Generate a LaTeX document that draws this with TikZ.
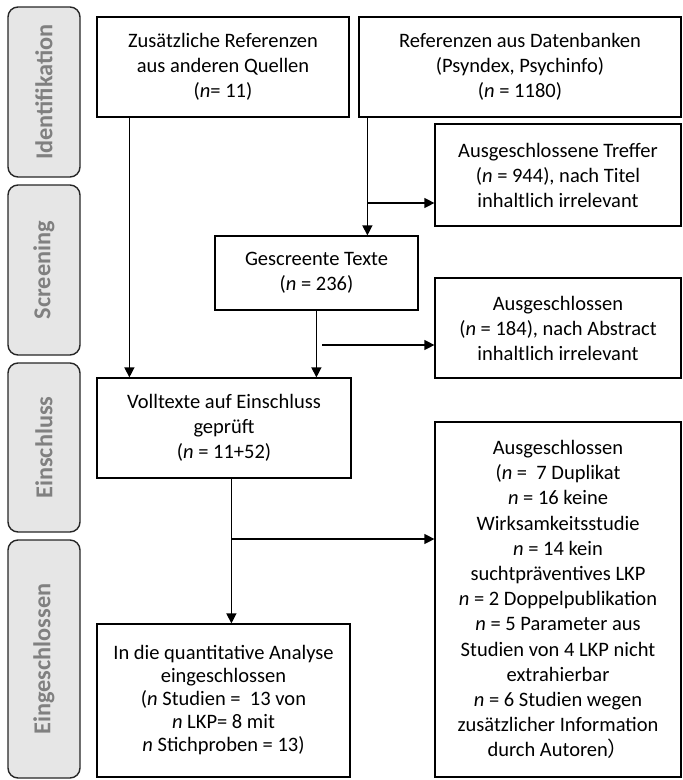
\documentclass[tikz,border=0pt]{standalone}
\usepackage{fontspec}
\setmainfont{Carlito}
\newfontfamily\cjkfont{Noto Sans CJK SC}
\usetikzlibrary{arrows.meta}
\definecolor{sidefill}{RGB}{230,230,230}
\definecolor{sidetext}{RGB}{128,128,128}
\begin{document}
\begin{tikzpicture}[x=1pt,y=-1pt,
  box/.style={draw, line width=1.2pt, inner sep=0pt, align=center, font=\fontsize{20.5}{25}\selectfont},
  side/.style={draw=black!85, line width=1.4pt, fill=sidefill, rounded corners=10pt, rotate=90, inner sep=0pt, text=sidetext, font=\fontsize{24.3}{28}\selectfont\bfseries, minimum height=72pt},
  arr/.style={line width=1.2pt, -{Triangle[length=10pt,width=10pt]}}]
\useasboundingbox (0,0) rectangle (683,780);
% phase labels
\node[side, minimum width=170pt] (s1) at (44,92) {Identifikation};
\node[side, minimum width=170pt] (s2) at (44,270) {Screening};
\node[side, minimum width=169pt] (s3) at (44,447.5) {Einschluss};
\node[side, minimum width=238pt] (s4) at (44,659) {Eingeschlossen};
% boxes
\node[box, minimum width=252pt, minimum height=100pt] (b1) at (223,67) {Zusätzliche Referenzen\\aus anderen Quellen\\(\textit{n}= 11)};
\node[box, minimum width=322pt, minimum height=100pt] (b2) at (520,67) {Referenzen aus Datenbanken\\(Psyndex, Psychinfo)\\(\textit{n} = 1180)};
\node[box, minimum width=246pt, minimum height=102pt] (b3) at (558,175) {Ausgeschlossene Treffer\\(\textit{n} = 944), nach Titel\\inhaltlich irrelevant};
\node[box, minimum width=203pt, minimum height=74pt] (b4) at (316.5,273) {Gescreente Texte\\(\textit{n} = 236)};
\node[box, minimum width=246pt, minimum height=100pt] (b5) at (558,328) {Ausgeschlossen\\(\textit{n} = 184), nach Abstract\\inhaltlich irrelevant};
\node[box, minimum width=254pt, minimum height=100pt] (b6) at (224,428) {Volltexte auf Einschluss\\geprüft\\(\textit{n} = 11+52)};
\node[box, minimum width=246pt, minimum height=355pt, font=\fontsize{20.5}{25.2}\selectfont] (b7) at (558,599.5) {Ausgeschlossen\\(\textit{n} =\ \ 7 Duplikat\\\textit{n} = 16 keine\\Wirksamkeitsstudie\\\textit{n} = 14 kein\\suchtpräventives LKP\\\textit{n} = 2 Doppelpublikation\\\textit{n} = 5 Parameter aus\\Studien von 4 LKP nicht\\extrahierbar\\\textit{n} = 6 Studien wegen\\zusätzlicher Information\\durch Autoren{\cjkfont ）}};
\node[box, minimum width=253pt, minimum height=153pt, font=\fontsize{20.5}{23}\selectfont] (b8) at (223.5,700.5) {In die quantitative Analyse\\eingeschlossen\\(\textit{n} Studien =\ \ 13 von\\\textit{n} LKP= 8 mit\\\textit{n} Stichproben = 13)};
% connectors
\draw[arr] ([xshift=33pt]b1.south west) -- ([xshift=33pt]b6.north west);
\draw[arr] ([xshift=9pt]b2.south west) -- ([xshift=153pt]b4.north west);
\coordinate (c1) at (368,203);
\draw[arr] (c1) -- (c1 -| b3.west);
\draw[arr] ([xshift=102pt]b4.south west) -- ([xshift=220pt]b6.north west);
\coordinate (c2) at (322,345);
\draw[arr] (c2) -- (c2 -| b5.west);
\draw[arr] ([xshift=135pt]b6.south west) -- ([xshift=135pt]b8.north west);
\coordinate (c3) at (232,539);
\draw[arr] (c3) -- (c3 -| b7.west);
\end{tikzpicture}
\end{document}
